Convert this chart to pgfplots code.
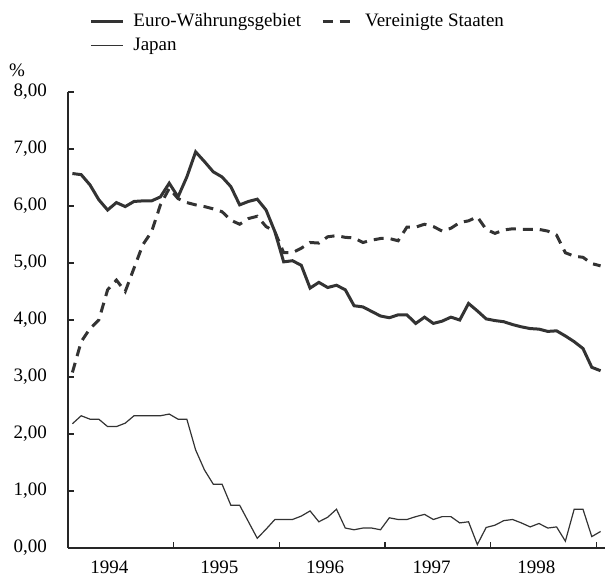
\documentclass[border=0pt]{standalone}
\usepackage{fontspec}
\setmainfont{Liberation Serif}
\usepackage{pgfplots}
\usepackage{pgfplotstable}
\pgfplotsset{compat=1.18}
\definecolor{ln}{RGB}{51,51,51}

% monthly values, Jan 1994 .. Jan 1999 (m = month index)
\pgfplotstableread{
m  euro us   jp
0  6.57 3.08 2.18
1  6.55 3.62 2.32
2  6.37 3.85 2.26
3  6.11 4.00 2.26
4  5.93 4.53 2.13
5  6.06 4.70 2.13
6  5.99 4.50 2.19
7  6.08 4.91 2.32
8  6.09 5.32 2.32
9  6.09 5.55 2.32
10 6.16 6.02 2.32
11 6.40 6.31 2.35
12 6.16 6.13 2.26
13 6.51 6.06 2.26
14 6.95 6.02 1.72
15 6.78 5.99 1.37
16 6.60 5.95 1.12
17 6.51 5.90 1.12
18 6.34 5.75 0.75
19 6.02 5.68 0.75
20 6.08 5.78 0.46
21 6.12 5.82 0.17
22 5.93 5.64 0.33
23 5.55 5.55 0.50
24 5.02 5.18 0.50
25 5.04 5.18 0.50
26 4.96 5.26 0.56
27 4.56 5.36 0.65
28 4.66 5.35 0.46
29 4.57 5.46 0.54
30 4.61 5.48 0.68
31 4.53 5.45 0.35
32 4.25 5.44 0.32
33 4.23 5.36 0.35
34 4.15 5.40 0.35
35 4.07 5.43 0.32
36 4.04 5.43 0.53
37 4.09 5.39 0.50
38 4.09 5.63 0.50
39 3.94 5.63 0.55
40 4.05 5.68 0.59
41 3.94 5.64 0.50
42 3.98 5.56 0.55
43 4.05 5.61 0.55
44 4.00 5.71 0.44
45 4.29 5.74 0.46
46 4.16 5.81 0.06
47 4.02 5.59 0.36
48 3.99 5.52 0.40
49 3.97 5.58 0.48
50 3.92 5.60 0.50
51 3.88 5.59 0.44
52 3.85 5.59 0.37
53 3.84 5.59 0.43
54 3.80 5.56 0.35
55 3.81 5.49 0.37
56 3.72 5.18 0.12
57 3.62 5.12 0.68
58 3.50 5.10 0.68
59 3.17 4.99 0.20
60 3.11 4.95 0.29
}\rates

\begin{document}
\begin{tikzpicture}[font=\fontsize{9.5}{11}\selectfont]
\begin{axis}[
    scale only axis,
    width=268.5pt, height=228pt,
    xmin=0, xmax=61,
    ymin=0, ymax=8,
    axis x line=bottom, axis y line=left,
    axis line style={-, draw=black!85, line width=0.6pt},
    tick align=inside,
    major tick length=3pt,
    tick style={draw=black!85, line width=0.6pt},
    xtick={12,24,36,48,60},
    xticklabels={},
    extra x ticks={4.7,17.2,29.2,41.3,53.2},
    extra x tick labels={1994,1995,1996,1997,1998},
    extra x tick style={major tick length=0pt, xticklabel style={yshift=-3pt}},
    ytick={0,1,...,8},
    yticklabel style={xshift=-7pt},
    /pgf/number format/.cd, fixed, fixed zerofill, precision=2, use comma, assume math mode=true,
    /pgfplots/.cd,
    legend columns=2,
    legend cell align=left,
    legend style={at={(axis description cs:0,1)}, anchor=north west,
        xshift=10.5pt, yshift=41.5pt, draw=none, fill=none, inner sep=0pt,
        /tikz/column 2/.style={column sep=8pt},
        row sep=0pt},
    legend image code/.code={\draw[#1] (0pt,0pt) -- (16pt,0pt); \path (18.5pt,0pt);},
    clip=false,
]
\addplot[ln, line width=1.5pt] table[x expr=\thisrow{m}+0.5, y=euro] {\rates};
\addlegendentry{Euro-Währungsgebiet}
\addplot[ln, line width=1.5pt, dash pattern=on 5pt off 3.5pt] table[x expr=\thisrow{m}+0.5, y=us] {\rates};
\addlegendentry{Vereinigte Staaten}
\addplot[ln, line width=0.6pt] table[x expr=\thisrow{m}+0.5, y=jp] {\rates};
\addlegendentry{Japan}
\node[anchor=base] at ([xshift=-25.5pt, yshift=8pt]axis description cs:0,1) {\%};
\end{axis}
\pgfresetboundingbox
\path ([shift={(-34pt,-15pt)}]current axis.south west) rectangle ([shift={(269pt,274pt)}]current axis.south west);
\end{tikzpicture}
\end{document}
